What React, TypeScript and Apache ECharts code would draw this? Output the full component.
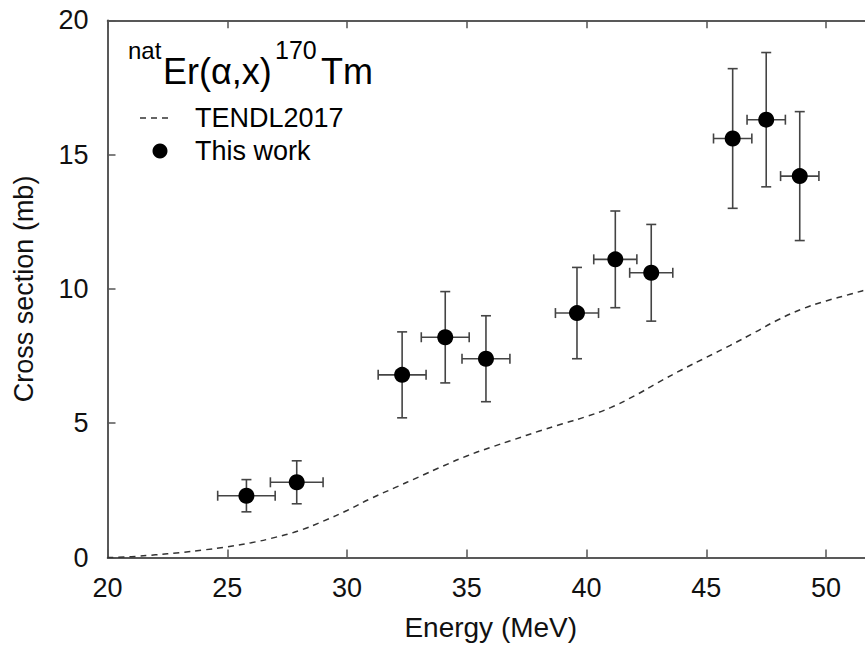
import React, { useEffect, useRef } from "react";
import * as echarts from "echarts";

// Measured data (this work)
const energy = [25.8, 27.9, 32.3, 34.1, 35.8, 39.6, 41.2, 42.7, 46.1, 47.5, 48.9];
const energyErr = [1.2, 1.1, 1.0, 1.0, 1.0, 0.9, 0.9, 0.9, 0.8, 0.8, 0.8];
const crossSection = [2.3, 2.8, 6.8, 8.2, 7.4, 9.1, 11.1, 10.6, 15.6, 16.3, 14.2];
const crossSectionErr = [0.6, 0.8, 1.6, 1.7, 1.6, 1.7, 1.8, 1.8, 2.6, 2.5, 2.4];

// TENDL2017 curve
const tendlEnergy = [20, 21, 22, 23, 24, 25, 26, 27, 28, 29, 30, 31, 32, 33, 34, 35, 36, 37, 38, 39, 40, 41, 42, 43, 44, 45, 46, 47, 48, 49, 50, 51, 52, 53];
const tendlValue = [0, 0.03, 0.1, 0.18, 0.28, 0.4, 0.55, 0.75, 1.0, 1.35, 1.75, 2.2, 2.6, 3.0, 3.4, 3.78, 4.1, 4.4, 4.7, 4.98, 5.25, 5.58, 6.02, 6.52, 7.0, 7.45, 7.9, 8.37, 8.85, 9.25, 9.55, 9.8, 10.05, 10.3];

const FONT = "Liberation Sans, Arial, Helvetica, sans-serif";

export default function App() {
  const ref = useRef<HTMLDivElement>(null);
  useEffect(() => {
    if (!ref.current) return;
    const chart = echarts.init(ref.current, null, { renderer: "svg" });
    const points = energy.map((e, i) => [e, crossSection[i], energyErr[i], crossSectionErr[i]]);
    const tendl = tendlEnergy.map((e, i) => [e, tendlValue[i]]);
    const axisLine = { show: true, onZero: false, lineStyle: { color: "#222", width: 1.5 } };
    const axisTick = { show: true, inside: true, length: 8, lineStyle: { color: "#555", width: 1.5 } };
    const labelStyle = { fontSize: 27, color: "#111", fontFamily: FONT };
    chart.setOption({
      animation: false,
      backgroundColor: "#fff",
      grid: { left: 107.5, top: 20.3, right: -9, bottom: 93.5, containLabel: false, outerBoundsMode: "none" },
      xAxis: [
        {
          type: "value", min: 20, max: 52, interval: 5, position: "bottom",
          axisLine, axisTick,
          axisLabel: { ...labelStyle, margin: 17, showMaxLabel: false },
          splitLine: { show: false },
          name: "Energy (MeV)", nameLocation: "middle", nameGap: 56,
          nameTextStyle: { ...labelStyle, fontSize: 28 },
        },
        {
          type: "value", min: 20, max: 52, interval: 5, position: "top",
          axisLine, axisTick, axisLabel: { show: false }, splitLine: { show: false },
        },
      ],
      yAxis: [
        {
          type: "value", min: 0, max: 20, interval: 5, position: "left",
          axisLine, axisTick,
          axisLabel: { ...labelStyle, margin: 19 },
          splitLine: { show: false },
          name: "Cross section (mb)", nameLocation: "middle", nameGap: 70,
          nameTextStyle: { ...labelStyle },
        },
        {
          type: "value", min: 0, max: 20, interval: 5, position: "right",
          axisLine, axisTick, axisLabel: { show: false }, splitLine: { show: false },
        },
      ],
      series: [
        {
          name: "TENDL2017", type: "line", data: tendl, xAxisIndex: 0, yAxisIndex: 0,
          showSymbol: false, smooth: 0.5, clip: true,
          lineStyle: { color: "#333", width: 1.5, type: [6, 5] },
          z: 2,
        },
        {
          name: "errors", type: "custom", data: points, xAxisIndex: 0, yAxisIndex: 0,
          encode: { x: 0, y: 1 },
          renderItem: (params: any, api: any) => {
            const x = api.value(0), y = api.value(1), xe = api.value(2), ye = api.value(3);
            const l = api.coord([x - xe, y]);
            const r = api.coord([x + xe, y]);
            const t = api.coord([x, y + ye]);
            const b = api.coord([x, y - ye]);
            const cap = 5;
            const style = { stroke: "#444", lineWidth: 1.6 };
            const ln = (x1: number, y1: number, x2: number, y2: number) => ({ type: "line", shape: { x1, y1, x2, y2 }, style });
            return {
              type: "group",
              children: [
                ln(l[0], l[1], r[0], r[1]),
                ln(l[0], l[1] - cap, l[0], l[1] + cap),
                ln(r[0], r[1] - cap, r[0], r[1] + cap),
                ln(t[0], t[1], b[0], b[1]),
                ln(t[0] - cap, t[1], t[0] + cap, t[1]),
                ln(b[0] - cap, b[1], b[0] + cap, b[1]),
              ],
            };
          },
          z: 3,
        },
        {
          name: "This work", type: "scatter", data: points.map((p) => [p[0], p[1]]),
          xAxisIndex: 0, yAxisIndex: 0,
          symbol: "circle", symbolSize: 16, itemStyle: { color: "#000", opacity: 1 }, z: 4,
        },
      ],
      graphic: [
        { type: "text", x: 128, y: 50, style: { text: "nat", fontSize: 24, fontFamily: FONT, fill: "#000", align: "left", verticalAlign: "middle" } },
        { type: "text", x: 163, y: 71, style: { text: "Er(α,x)", fontSize: 36, fontFamily: FONT, fill: "#000", align: "left", verticalAlign: "middle" } },
        { type: "text", x: 275, y: 50, style: { text: "170", fontSize: 25, fontFamily: FONT, fill: "#000", align: "left", verticalAlign: "middle" } },
        { type: "text", x: 321, y: 71, style: { text: "Tm", fontSize: 36, fontFamily: FONT, fill: "#000", align: "left", verticalAlign: "middle" } },
        { type: "line", shape: { x1: 140, y1: 118, x2: 173, y2: 118 }, style: { stroke: "#333", lineWidth: 1.5, lineDash: [6, 5] } },
        { type: "text", x: 195, y: 118, style: { text: "TENDL2017", fontSize: 27, fontFamily: FONT, fill: "#000", align: "left", verticalAlign: "middle" } },
        { type: "circle", shape: { cx: 160, cy: 151, r: 7.5 }, style: { fill: "#000" } },
        { type: "text", x: 195, y: 151, style: { text: "This work", fontSize: 27, fontFamily: FONT, fill: "#000", align: "left", verticalAlign: "middle" } },
      ],
    });
    return () => chart.dispose();
  }, []);
  return (
    <div
      ref={ref}
      style={{ position: "absolute", left: 0, top: 0, width: 865, height: 651, overflow: "hidden" }}
    />
  );
}
